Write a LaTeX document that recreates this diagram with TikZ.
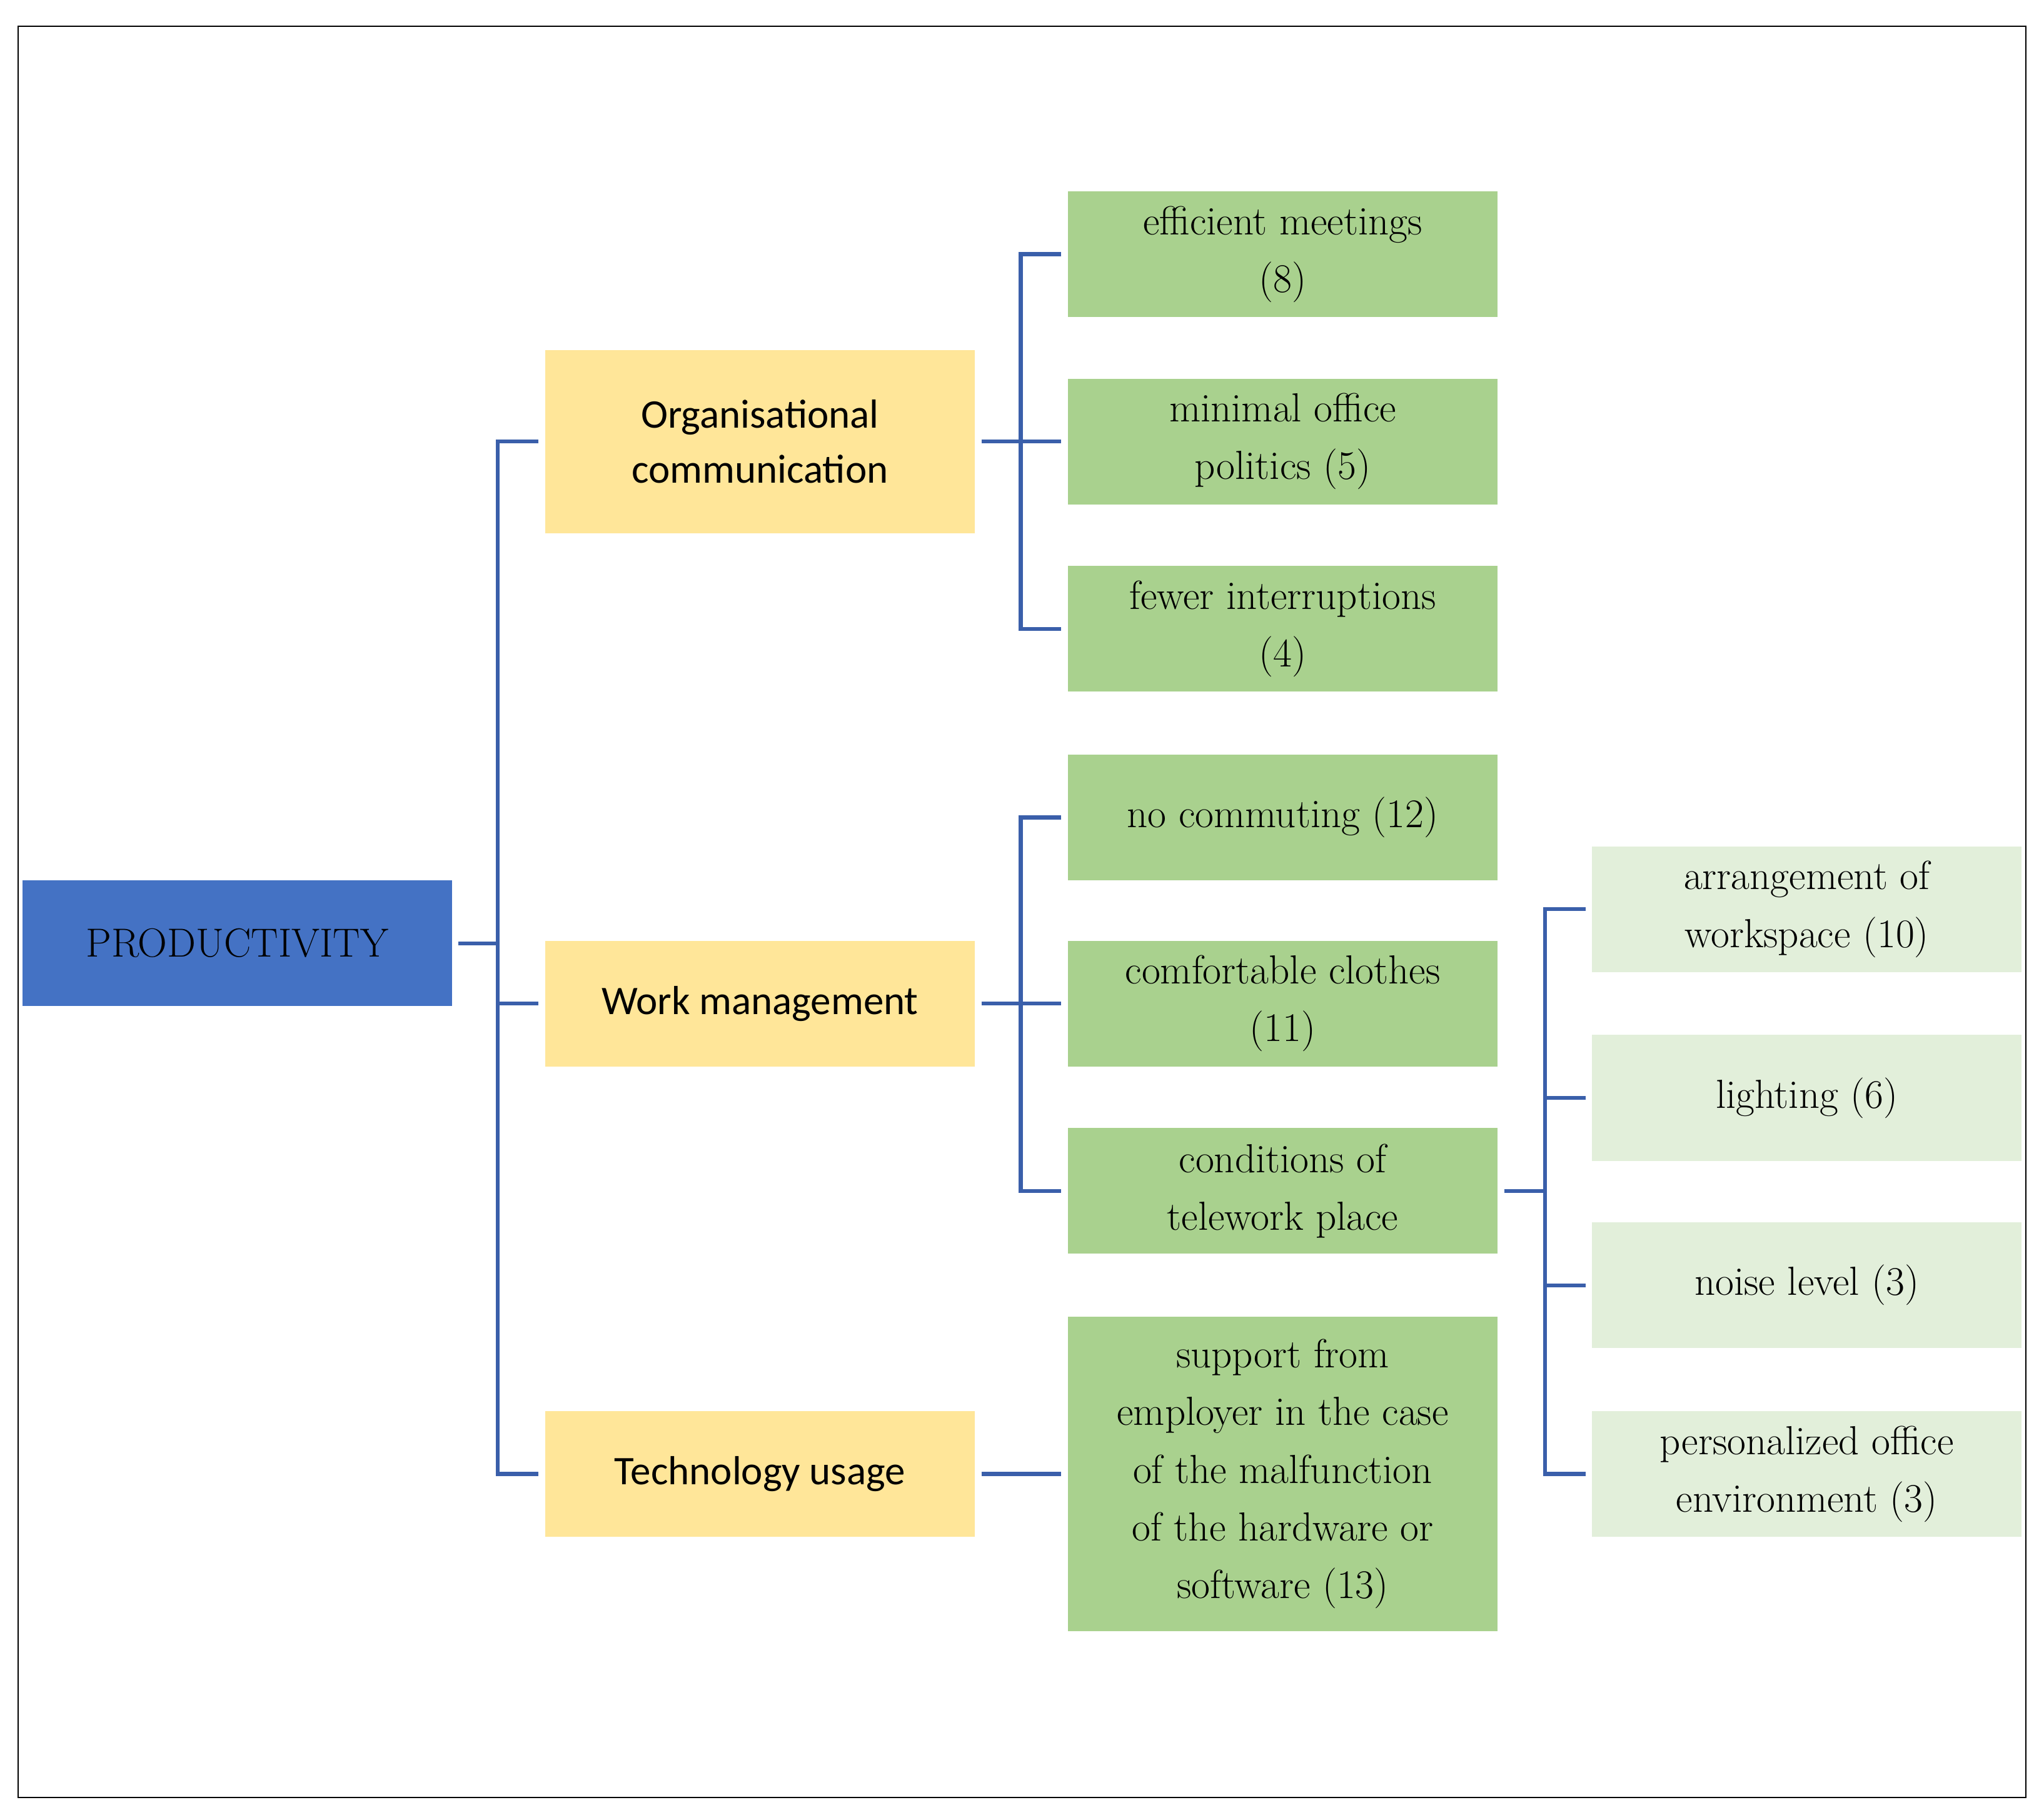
\documentclass[tikz,border=0pt]{standalone}
\usepackage{fontspec}
\newfontfamily\sansf{Carlito}
\begin{document}
\begin{tikzpicture}[x=1pt,y=-1pt,
 box/.style={draw=none,minimum width=328pt,align=center,outer sep=5pt,inner sep=2pt,font=\fontsize{31}{44}\selectfont},
 yel/.style={box,fill=yellowb,font=\sansf\fontsize{31}{42}\selectfont},
 grn/.style={box,fill=greenb},
 lgr/.style={box,fill=lgreenb},
 con/.style={draw=lineb,line width=3pt}]
\definecolor{yellowb}{HTML}{FFE699}
\definecolor{greenb}{HTML}{A9D18E}
\definecolor{lgreenb}{HTML}{E2EFDA}
\definecolor{blueb}{HTML}{4472C4}
\definecolor{lineb}{HTML}{3A5FAA}
\useasboundingbox (0,0) rectangle (1560,1385);
\draw[line width=1pt] (14,20) rectangle (1546,1372);
\node[box,fill=blueb,minimum height=96pt] (root) at (181,720) {PRODUCTIVITY};
\node[yel,minimum height=140pt] (org) at (580,337) {Organisational\\communication};
\node[yel,minimum height=96pt] (work) at (580,766) {Work management};
\node[yel,minimum height=96pt] (tech) at (580,1125) {Technology usage};
\node[grn,minimum height=96pt] (g1) at (979,194) {efficient meetings\\(8)};
\node[grn,minimum height=96pt] (g2) at (979,337) {minimal office\\politics (5)};
\node[grn,minimum height=96pt] (g3) at (979,480) {fewer interruptions\\(4)};
\node[grn,minimum height=96pt] (g4) at (979,624) {no commuting (12)};
\node[grn,minimum height=96pt] (g5) at (979,766) {comfortable clothes\\(11)};
\node[grn,minimum height=96pt] (g6) at (979,909) {conditions of\\telework place};
\node[grn,minimum height=240pt] (g7) at (979,1125) {support from\\employer in the case\\of the malfunction\\of the hardware or\\software (13)};
\node[lgr,minimum height=96pt] (l1) at (1379,694) {arrangement of\\workspace (10)};
\node[lgr,minimum height=96pt] (l2) at (1379,838) {lighting (6)};
\node[lgr,minimum height=96pt] (l3) at (1379,981) {noise level (3)};
\node[lgr,minimum height=96pt] (l4) at (1379,1125) {personalized office\\environment (3)};
% root
\draw[con] (root.east) -- (380,720);
\draw[con] (org.west) -| (380,720) |- (tech.west);
\draw[con] (380,766) -- (work.west);
% org
\draw[con] (org.east) -- (779,337);
\draw[con] (g1.west) -| (779,337) |- (g3.west);
\draw[con] (779,337) -- (g2.west);
% work
\draw[con] (work.east) -- (779,766);
\draw[con] (g4.west) -| (779,766) |- (g6.west);
\draw[con] (779,766) -- (g5.west);
% tech
\draw[con] (tech.east) -- (g7.west);
% conditions
\draw[con] (g6.east) -- (1179,909);
\draw[con] (l1.west) -| (1179,909) |- (l4.west);
\draw[con] (1179,838) -- (l2.west);
\draw[con] (1179,981) -- (l3.west);
\end{tikzpicture}
\end{document}
